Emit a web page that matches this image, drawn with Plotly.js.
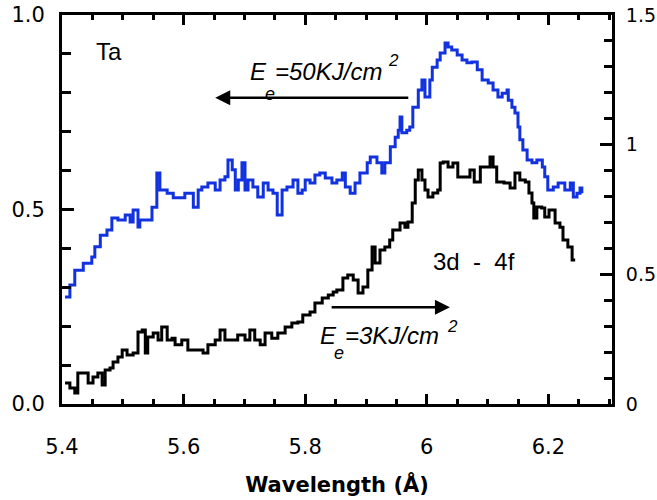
<!DOCTYPE html>
<html>
<head>
<meta charset="utf-8">
<script src="https://cdn.plot.ly/plotly-3.0.1.min.js"></script>
<style>html,body{margin:0;padding:0;background:#fff;}#chart{width:657px;height:500px;}</style>
</head>
<body>
<div id="chart"></div>
<script>
// Blue spectrum (E_e = 50 KJ/cm^2), left axis
var blueX = [5.405,5.413,5.421,5.435,5.449,5.454,5.463,5.474,5.482,5.492,5.504,5.512,5.517,5.525,5.528,5.541,5.548,5.556,5.561,5.573,5.583,5.594,5.602,5.611,5.616,5.624,5.630,5.640,5.652,5.660,5.668,5.673,5.680,5.685,5.690,5.696,5.701,5.706,5.714,5.722,5.731,5.739,5.747,5.754,5.762,5.770,5.780,5.788,5.795,5.800,5.808,5.816,5.824,5.833,5.844,5.852,5.861,5.866,5.874,5.882,5.890,5.902,5.907,5.918,5.926,5.931,5.940,5.948,5.953,5.956,5.959,5.967,5.972,5.977,5.986,5.992,5.997,6.005,6.009,6.017,6.022,6.030,6.035,6.041,6.050,6.058,6.066,6.074,6.083,6.091,6.101,6.109,6.117,6.124,6.132,6.134,6.140,6.145,6.150,6.153,6.158,6.165,6.173,6.181,6.190,6.194,6.199,6.208,6.216,6.227,6.236,6.241,6.247,6.252,6.255];
var blueY = [0.275,0.306,0.344,0.362,0.378,0.404,0.434,0.447,0.478,0.473,0.486,0.468,0.499,0.455,0.473,0.473,0.506,0.594,0.550,0.542,0.530,0.530,0.542,0.542,0.506,0.550,0.558,0.568,0.550,0.576,0.584,0.627,0.602,0.550,0.576,0.620,0.550,0.576,0.558,0.532,0.568,0.550,0.542,0.486,0.550,0.558,0.576,0.542,0.550,0.576,0.568,0.589,0.594,0.581,0.568,0.576,0.594,0.558,0.542,0.568,0.594,0.620,0.635,0.620,0.594,0.620,0.661,0.686,0.704,0.738,0.697,0.704,0.712,0.763,0.807,0.833,0.789,0.833,0.866,0.884,0.902,0.928,0.918,0.910,0.897,0.884,0.877,0.879,0.859,0.833,0.825,0.807,0.789,0.799,0.807,0.781,0.763,0.748,0.712,0.679,0.653,0.627,0.620,0.627,0.609,0.584,0.550,0.558,0.568,0.550,0.568,0.532,0.542,0.555,0.542];

// Black spectrum (E_e = 3 KJ/cm^2), right axis
var blackX = [5.405,5.413,5.421,5.426,5.438,5.443,5.451,5.459,5.466,5.471,5.479,5.484,5.492,5.499,5.507,5.517,5.525,5.532,5.537,5.541,5.550,5.558,5.564,5.573,5.581,5.586,5.597,5.607,5.619,5.632,5.640,5.652,5.660,5.668,5.680,5.689,5.701,5.709,5.717,5.726,5.734,5.745,5.755,5.767,5.778,5.788,5.796,5.808,5.816,5.828,5.838,5.846,5.852,5.862,5.870,5.879,5.887,5.895,5.903,5.910,5.915,5.923,5.931,5.939,5.944,5.956,5.964,5.969,5.976,5.981,5.986,5.992,5.997,6.002,6.010,6.018,6.022,6.027,6.035,6.043,6.051,6.060,6.066,6.071,6.078,6.088,6.096,6.104,6.109,6.115,6.127,6.137,6.145,6.153,6.162,6.168,6.173,6.176,6.181,6.189,6.194,6.201,6.211,6.219,6.224,6.232,6.239,6.244];
var blackY = [0.081,0.062,0.042,0.120,0.120,0.081,0.104,0.120,0.073,0.131,0.139,0.162,0.181,0.208,0.189,0.197,0.278,0.285,0.197,0.258,0.274,0.247,0.297,0.247,0.254,0.228,0.247,0.208,0.208,0.197,0.228,0.247,0.285,0.247,0.247,0.266,0.247,0.285,0.247,0.228,0.274,0.254,0.274,0.297,0.312,0.316,0.343,0.355,0.389,0.409,0.420,0.432,0.440,0.486,0.497,0.478,0.428,0.451,0.517,0.605,0.544,0.594,0.605,0.632,0.671,0.698,0.682,0.702,0.775,0.864,0.902,0.864,0.825,0.798,0.814,0.825,0.929,0.933,0.914,0.929,0.875,0.875,0.875,0.902,0.856,0.914,0.914,0.952,0.914,0.856,0.852,0.833,0.891,0.864,0.856,0.814,0.775,0.717,0.760,0.756,0.721,0.748,0.698,0.682,0.632,0.605,0.555,0.555];

var xTickVals = [5.4, 5.6, 5.8, 6.0, 6.2];
var xTickText = ['5.4', '5.6', '5.8', '6', '6.2'];
var yLeftTickVals = [0, 0.5, 1.0];
var yLeftTickText = ['0.0', '0.5', '1.0'];
var yRightTickVals = [0, 0.5, 1, 1.5];
var yRightTickText = ['0', '0.5', '1', '1.5'];

var FONT = 'DejaVu Sans, Verdana, sans-serif';
var AFONT = 'Liberation Sans, Arial, Helvetica, sans-serif';
var BLUE = '#1232e0';

var traces = [
  {x: blueX, y: blueY, type: 'scatter', mode: 'lines', line: {color: BLUE, width: 3, shape: 'hv'}, yaxis: 'y', hoverinfo: 'skip'},
  {x: blackX, y: blackY, type: 'scatter', mode: 'lines', line: {color: '#000', width: 3, shape: 'hv'}, yaxis: 'y2', hoverinfo: 'skip'}
];

function txt(x, y, t, size, anchor) {
  return {x: x, y: y, xref: 'x', yref: 'y', text: t, showarrow: false,
          xanchor: anchor || 'left', yanchor: 'middle', borderpad: 0, borderwidth: 0,
          font: {size: size, family: AFONT, color: '#000'}};
}

var layout = {
  width: 657, height: 500,
  margin: {l: 62, r: 45, t: 15, b: 96},
  paper_bgcolor: '#fff', plot_bgcolor: '#fff',
  showlegend: false,
  font: {family: FONT, color: '#000'},
  xaxis: {
    range: [5.4, 6.3046], tickvals: xTickVals, ticktext: xTickText,
    ticks: 'inside', ticklen: 10, tickwidth: 3, tickcolor: '#000',
    minor: {dtick: 0.05, tick0: 5.4, ticks: 'inside', ticklen: 5, tickwidth: 3, tickcolor: '#000'},
    showline: true, linewidth: 3, linecolor: '#000', mirror: 'ticks',
    showgrid: false, zeroline: false,
    tickfont: {size: 21, family: FONT}, ticklabelstandoff: 22,
    title: {text: 'Wavelength (Å)', font: {size: 21, family: FONT, weight: 'bold'}, standoff: 20}
  },
  yaxis: {
    range: [0, 1.0], tickvals: yLeftTickVals, ticktext: yLeftTickText,
    ticks: 'inside', ticklen: 12, tickwidth: 3, tickcolor: '#000',
    minor: {dtick: 0.1, tick0: 0, ticks: 'inside', ticklen: 9, tickwidth: 3, tickcolor: '#000'},
    showline: true, linewidth: 3, linecolor: '#000', mirror: false,
    showgrid: false, zeroline: false,
    tickfont: {size: 21, family: FONT}, ticklabelstandoff: 10
  },
  yaxis2: {
    range: [0, 1.5], overlaying: 'y', side: 'right',
    tickvals: yRightTickVals, ticktext: yRightTickText,
    ticks: 'inside', ticklen: 12, tickwidth: 3, tickcolor: '#000',
    minor: {dtick: 0.1, tick0: 0, ticks: 'inside', ticklen: 8, tickwidth: 3, tickcolor: '#000'},
    showline: true, linewidth: 3, linecolor: '#000',
    showgrid: false, zeroline: false,
    tickfont: {size: 19, family: FONT}, ticklabelstandoff: 7
  },
  annotations: [
    txt(5.4765, 0.905, 'Ta', 24, 'center'),
    // upper label: E_e=50KJ/cm^2
    txt(5.709, 0.8535, '<i>E</i>', 24),
    txt(5.734, 0.797, '<i>e</i>', 18),
    txt(5.751, 0.8535, '<i>=50KJ/cm</i>', 24),
    txt(5.936, 0.882, '<i>2</i>', 17),
    // lower label: E_e=3KJ/cm^2
    txt(5.824, 0.177, '<i>E</i>', 24),
    txt(5.848, 0.131, '<i>e</i>', 18),
    txt(5.866, 0.177, '<i>=3KJ/cm</i>', 24),
    txt(6.033, 0.2, '<i>2</i>', 17),
    txt(6.0768, 0.3676, '3d&nbsp;&nbsp;-&nbsp;&nbsp;4f', 24, 'center'),
    {x: 5.652, y: 0.787, xref: 'x', yref: 'y', ax: 5.972, ay: 0.787, axref: 'x', ayref: 'y', text: '', showarrow: true, arrowhead: 2, arrowsize: 1.2, arrowwidth: 2.5, arrowcolor: '#000'},
    {x: 6.038, y: 0.249, xref: 'x', yref: 'y', ax: 5.841, ay: 0.249, axref: 'x', ayref: 'y', text: '', showarrow: true, arrowhead: 2, arrowsize: 1.2, arrowwidth: 2.5, arrowcolor: '#000'}
  ]
};

Plotly.newPlot('chart', traces, layout, {staticPlot: true, displayModeBar: false});
</script>
</body>
</html>
